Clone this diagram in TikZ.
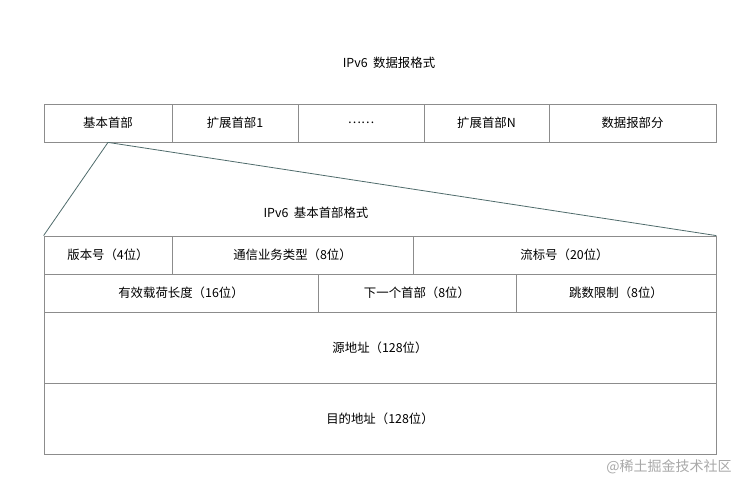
\documentclass[tikz,border=0pt]{standalone}
\usepackage{fontspec}
\setmainfont{Noto Sans CJK SC}
\definecolor{cellline}{HTML}{8C8C8C}
\definecolor{linkline}{HTML}{4F6B6B}
\definecolor{wm}{HTML}{A8A8A8}
\begin{document}
\begin{tikzpicture}[x=1pt,y=-1pt,
  cell/.style={draw=cellline,line width=0.8pt,rectangle,inner sep=0pt,font=\fontsize{12.4}{14}\selectfont},
  link/.style={draw=linkline,line width=0.8pt},
  ttl/.style={font=\fontsize{12.4}{14}\selectfont}]
\useasboundingbox (0,0) rectangle (756,492);
% titles
\node[ttl] (t1) at (389,63) {IPv6\ \ 数据报格式};
\node[ttl] (t2) at (316,213) {IPv6\ \ 基本首部格式};
% top row
\node[cell,minimum width=128,minimum height=38] (base) at (108,123) {基本首部};
\node[cell,minimum width=126,minimum height=38] (ext1) at (235,123) {扩展首部1};
\node[cell,minimum width=126,minimum height=38] (dots) at (361,123) {……};
\node[cell,minimum width=125,minimum height=38] (extn) at (486.5,123) {扩展首部N};
\node[cell,minimum width=167,minimum height=38] (data) at (632.5,123) {数据报部分};
% row 1
\node[cell,minimum width=128,minimum height=38] (ver) at (108,255) {版本号（4位）};
\node[cell,minimum width=241,minimum height=38] (tc) at (292.5,255) {通信业务类型（8位）};
\node[cell,minimum width=303,minimum height=38] (flow) at (564.5,255) {流标号（20位）};
% row 2
\node[cell,minimum width=274,minimum height=38] (plen) at (181,293) {有效载荷长度（16位）};
\node[cell,minimum width=198,minimum height=38] (nh) at (417,293) {下一个首部（8位）};
\node[cell,minimum width=200,minimum height=38] (hop) at (616,293) {跳数限制（8位）};
% row 3,4
\node[cell,minimum width=672,minimum height=71] (src) at (380,347.5) {源地址（128位）};
\node[cell,minimum width=672,minimum height=71] (dst) at (380,418.5) {目的地址（128位）};
% connectors
\draw[link] (base.south) -- (ver.north west);
\draw[link] (base.south) -- (flow.north east);
% watermark
\node[text=wm,font=\fontsize{14}{16}\selectfont] (wmk) at (669,467) {@稀土掘金技术社区};
\end{tikzpicture}
\end{document}
